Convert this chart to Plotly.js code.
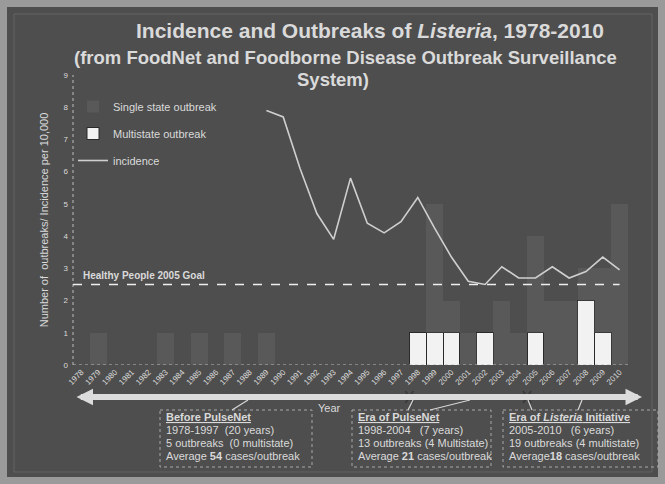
<!DOCTYPE html>
<html>
<head>
<meta charset="utf-8">
<script src="https://cdn.plot.ly/plotly-3.0.1.min.js"></script>
<style>
html,body{margin:0;padding:0;background:#505050;}
#chart{width:665px;height:484px;}
</style>
</head>
<body>
<div id="chart"></div>
<script>
// ---- data ----
const years = ['1978','1979','1980','1981','1982','1983','1984','1985','1986','1987','1988','1989','1990','1991','1992','1993','1994','1995','1996','1997','1998','1999','2000','2001','2002','2003','2004','2005','2006','2007','2008','2009','2010'];
const singleState = [0,1,0,0,0,1,0,1,0,1,0,1,0,0,0,0,0,0,0,0,0,4,1,1,0,2,1,3,2,2,1,2,5];
const multistate  = [0,0,0,0,0,0,0,0,0,0,0,0,0,0,0,0,0,0,0,0,1,1,1,0,1,0,0,1,0,0,2,1,0];
const incidence   = [null,null,null,null,null,null,null,null,null,null,null,7.9,7.7,6.1,4.7,3.9,5.8,4.4,4.1,4.45,5.2,4.25,3.35,2.6,2.5,3.05,2.7,2.7,3.05,2.7,2.9,3.35,2.95];
const goalValue = 2.5;
const goalLabel = 'Healthy People 2005 Goal';
const yTicks = [0,1,2,3,4,5,6,7,8,9];
const eraBoxes = [
  {head:'<u><b>Before PulseNet</b></u>', l1:'1978-1997  (20 years)', l2:'5 outbreaks  (0 multistate)', l3:'Average <b>54</b> cases/outbreak'},
  {head:'<u><b>Era of PulseNet</b></u>', l1:'1998-2004   (7 years)', l2:'13 outbreaks (4 Multistate)', l3:'Average <b>21</b> cases/outbreak'},
  {head:'<u><b>Era of <i>Listeria</i> Initiative</b></u>', l1:'2005-2010   (6 years)', l2:'19 outbreaks (4 multistate)', l3:'Average<b>18</b> cases/outbreak'}
];

// ---- geometry helpers (pixel -> paper) ----
const ML = 73, MR = 37, MT = 75, MB = 119, W = 665, H = 484;
const PW = W - ML - MR, PH = H - MT - MB;
const px = v => (v - ML) / PW;
const py = v => (H - MB - v) / PH;

const FONT = 'Liberation Sans, Arial, sans-serif';
const TXT = '#dadada';

const traces = [
  {type:'bar', name:'Multistate outbreak', x:years, y:multistate,
   marker:{color:'#f2f2f2', line:{color:'#2a2a2a', width:1}},
   legendgroup:'b', legendrank:2, hoverinfo:'skip'},
  {type:'bar', name:'Single state outbreak', x:years, y:singleState,
   marker:{color:'rgba(150,150,150,0.17)', line:{width:0}},
   legendgroup:'a', legendrank:1, hoverinfo:'skip'},
  {type:'scatter', mode:'lines', name:'incidence', x:years, y:incidence,
   line:{color:'#cfcfcf', width:1.6}, connectgaps:false,
   legendgroup:'c', legendrank:3, hoverinfo:'skip'}
];

const shapes = [
  // outer slide frame
  {type:'rect', xref:'paper', yref:'paper', x0:px(0), x1:px(W), y0:py(0), y1:py(H),
   line:{color:'#9a9a9a', width:14}, layer:'below'},
  {type:'rect', xref:'paper', yref:'paper', x0:px(14), x1:px(652), y0:py(14), y1:py(472),
   line:{color:'rgba(255,255,255,0.12)', width:1}, layer:'below'},
  // dotted axes
  {type:'line', xref:'paper', yref:'y', x0:0, x1:0, y0:0, y1:9, line:{color:'#bdbdbd', width:1, dash:'dot'}},
  {type:'line', xref:'paper', yref:'y', x0:0, x1:1, y0:0, y1:0, line:{color:'#bdbdbd', width:1, dash:'dot'}},
  // goal line
  {type:'line', xref:'x', yref:'y', x0:-0.5, x1:years.length-1, y0:goalValue, y1:goalValue,
   line:{color:'#eeeeee', width:1.6, dash:'dash'}}
];

// era boundary X marks on the timeline arrow
const arrowY = 397;
const catW = PW / years.length;
[20, 27].forEach(i => {
  const cx = ML + i * catW;
  shapes.push({type:'line', xref:'paper', yref:'paper', x0:px(cx-4), x1:px(cx+4), y0:py(arrowY-6), y1:py(arrowY+6), line:{color:'#3a3a3a', width:2}});
  shapes.push({type:'line', xref:'paper', yref:'paper', x0:px(cx+4), x1:px(cx-4), y0:py(arrowY-6), y1:py(arrowY+6), line:{color:'#3a3a3a', width:2}});
});

// info boxes
const boxes = [[160,312],[352,491],[503,658]];
boxes.forEach(b => {
  shapes.push({type:'rect', xref:'paper', yref:'paper', x0:px(b[0]), x1:px(b[1]), y0:py(410), y1:py(467),
    line:{color:'#a8a8a8', width:1, dash:'dot'}});
});
// callout lines
[[232,410,248,400],[408,410,413,400],[430,410,470,400],[532,410,528,400],[578,410,582,400]].forEach(l => {
  shapes.push({type:'line', xref:'paper', yref:'paper', x0:px(l[0]), x1:px(l[2]), y0:py(l[1]), y1:py(l[3]),
    line:{color:'#d8d8d8', width:1.2}});
});

const annotations = [
  {text:'<b>Incidence and Outbreaks of <i>Listeria</i>, 1978-2010</b>', xref:'paper', yref:'paper',
   x:px(370), y:py(31), showarrow:false, font:{family:FONT, size:21, color:TXT}, xanchor:'center', yanchor:'middle'},
  {text:'<b>(from FoodNet and Foodborne Disease Outbreak Surveillance</b>', xref:'paper', yref:'paper',
   x:px(345), y:py(57), showarrow:false, font:{family:FONT, size:18.5, color:TXT}, xanchor:'center', yanchor:'middle'},
  {text:'<b>System)</b>', xref:'paper', yref:'paper',
   x:px(333), y:py(79), showarrow:false, font:{family:FONT, size:18.5, color:TXT}, xanchor:'center', yanchor:'middle'},
  {text:'<b>'+goalLabel+'</b>', xref:'paper', yref:'y', x:px(81), y:goalValue, yshift:9,
   showarrow:false, font:{family:FONT, size:10, color:TXT}, xanchor:'left', yanchor:'middle'},
  // timeline arrow
  {text:'', xref:'paper', yref:'paper', x:px(642), y:py(arrowY), ax:-567, ay:0, axref:'pixel', ayref:'pixel',
   showarrow:true, arrowside:'end+start', arrowhead:2, arrowsize:0.55, arrowwidth:6, arrowcolor:'#dcdcdc'},
  {text:'Year', xref:'paper', yref:'paper', x:px(329), y:py(408), showarrow:false,
   font:{family:FONT, size:11, color:TXT}, xanchor:'center', yanchor:'middle'}
];
const lineYs = [417, 430, 443, 456];
eraBoxes.forEach((e, k) => {
  [e.head, e.l1, e.l2, e.l3].forEach((t, j) => {
    annotations.push({text:t, xref:'paper', yref:'paper', x:px(boxes[k][0]+4), y:py(lineYs[j]),
      showarrow:false, xanchor:'left', yanchor:'middle', font:{family:FONT, size:11, color:TXT}});
  });
});

const layout = {
  width:W, height:H,
  margin:{l:ML, r:MR, t:MT, b:MB, pad:0},
  paper_bgcolor:'#4e4e4e', plot_bgcolor:'rgba(0,0,0,0)',
  barmode:'stack', bargap:0,
  font:{family:FONT, color:TXT},
  showlegend:true,
  legend:{x:0, xanchor:'left', y:py(92), yanchor:'top', bgcolor:'rgba(0,0,0,0)',
    font:{family:FONT, size:11, color:TXT}, traceorder:'grouped', tracegroupgap:8, itemwidth:30},
  xaxis:{type:'category', categoryorder:'array', categoryarray:years, tickangle:-45,
    tickfont:{family:FONT, size:8, color:TXT}, showgrid:false, zeroline:false, showline:false,
    ticks:'', range:[-0.5, years.length-0.5]},
  yaxis:{range:[0,9], tickvals:yTicks, tickfont:{family:FONT, size:8, color:TXT}, showgrid:false,
    zeroline:false, showline:false, ticks:'', ticklabelstandoff:4,
    title:{text:'Number of  outbreaks/ Incidence per 10,000', font:{family:FONT, size:11, color:TXT}, standoff:12}},
  shapes:shapes,
  annotations:annotations
};

Plotly.newPlot('chart', traces, layout, {staticPlot:true, displayModeBar:false});
</script>
</body>
</html>
